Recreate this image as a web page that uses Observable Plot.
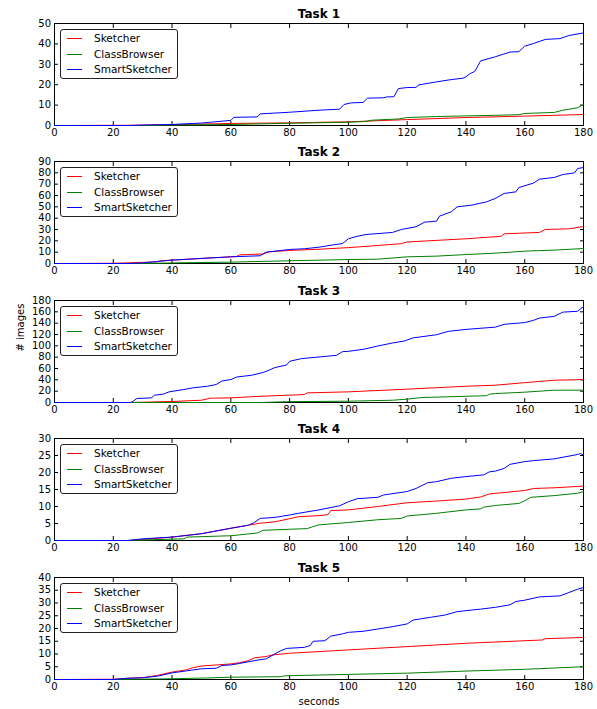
<!DOCTYPE html>
<html>
<head>
<meta charset="utf-8">
<script src="https://cdn.jsdelivr.net/npm/d3@7"></script>
<script src="https://cdn.jsdelivr.net/npm/@observablehq/plot@0.6"></script>
<style>
  body { margin: 0; background: #fff; font-family: "DejaVu Sans", sans-serif; }
  #chart { position: relative; width: 597px; height: 709px; overflow: hidden; }
  .panel { position: absolute; left: 0; }
  .legend { position: absolute; left: 60px; width: 116px; height: 48px; border: 1px solid #222; border-radius: 3px; background: #fff; font-size: 10.5px; color: #000; }
  .row { position: absolute; left: 0; width: 116px; height: 14px; }
  .sw { position: absolute; left: 6px; top: 7px; width: 15px; height: 1px; }
  .lab { position: absolute; left: 33px; top: 0; line-height: 14px; white-space: nowrap; }
</style>
</head>
<body>
<div id="chart"></div>
<script>
// ---- categories / labels ----
const seriesNames = ["Sketcher", "ClassBrowser", "SmartSketcher"];
const seriesColors = ["#ff0000", "#008000", "#0000ff"];
const taskTitles = ["Task 1", "Task 2", "Task 3", "Task 4", "Task 5"];
const xTicks = [0, 20, 40, 60, 80, 100, 120, 140, 160, 180];
const yTicks1 = [0, 10, 20, 30, 40, 50];
const yTicks2 = [0, 10, 20, 30, 40, 50, 60, 70, 80, 90];
const yTicks3 = [0, 20, 40, 60, 80, 100, 120, 140, 160, 180];
const yTicks4 = [0, 5, 10, 15, 20, 25, 30];
const yTicks5 = [0, 5, 10, 15, 20, 25, 30, 35, 40];

// ---- series values: [seconds, # images] ----
const task1Sketcher = [[0,0],[25,0.1],[40,0.4],[60,1.0],[80,1.3],[100,1.8],[120,2.9],[140,3.9],[160,4.6],[180,5.4]];
const task1ClassBrowser = [[0,0],[30,0],[40,0.2],[60,0.5],[70,0.8],[80,1.1],[100,1.6],[106,2.0],[108,2.6],[117,3.2],[120,3.9],[130,4.4],[140,4.7],[150,5.0],[158,5.3],[160,5.9],[170,6.4],[173,7.5],[178,8.7],[180,10.3]];
const task1SmartSketcher = [[0,0],[25,0],[30,0.2],[40,0.5],[50,1.2],[53,1.6],[60,2.5],[61,4],[69,4.2],[70,5.7],[80,6.5],[90,7.5],[97,8],[98.5,10.3],[101,11.1],[105,11.3],[106.5,13.4],[112,13.6],[113,14],[115.5,14.1],[117,18.1],[120,18.6],[123,18.7],[124,19.9],[130,21.4],[135,22.5],[139,23.2],[140,23.9],[141.5,25.5],[143,26.5],[145,31.7],[150,33.7],[155,36],[158,36.2],[160,38.9],[163,40.2],[167,42.2],[172,42.6],[175,44.1],[180,45.4]];

const task2Sketcher = [[0,0],[20,0.2],[30,1],[35,1.5],[36,2.4],[40,3],[50,4.5],[60,5.9],[62,6.2],[63,7.6],[71,8.4],[73,10.3],[80,11.5],[90,12.6],[100,14],[110,15.9],[118,17.5],[120,19],[140,21.8],[152,24],[153,26.2],[165,27.4],[167,30],[175,30.6],[180,32.6]];
const task2ClassBrowser = [[0,0],[30,0],[40,0.5],[60,1.2],[80,2.4],[100,3.5],[110,3.8],[120,5.9],[130,6.5],[140,7.9],[150,9.1],[160,10.9],[170,11.8],[180,13.2]];
const task2SmartSketcher = [[0,0],[25,0],[30,0.5],[40,3],[60,5.9],[70,6.8],[72,10],[80,12.4],[85,13],[90,14.4],[95,16.5],[98,17.6],[100,21.8],[103,24],[106,25.6],[115,27.4],[118,30],[123,32.4],[126,36.5],[130,37.4],[131,41.8],[135,45.6],[137,50],[142,51.5],[147,54.4],[150,57.4],[153,61.8],[157,63.2],[158,67],[163,71],[165,74.4],[170,75.9],[173,78.5],[177,80],[178,83.8],[180,84.7]];

const task3Sketcher = [[0,0],[25,0],[30,0.5],[40,1.8],[50,4],[53,7.6],[60,8.2],[70,11],[80,13],[85,14],[86,17],[100,18.8],[120,23.5],[140,28.7],[150,30.5],[160,35],[170,39.3],[180,40.5]];
const task3ClassBrowser = [[0,0],[70,0],[80,1.5],[100,2.3],[115,4],[120,5.9],[125,8.8],[140,11],[147,12],[148,14.7],[150,15.8],[160,18.2],[170,21.7],[180,21.7]];
const task3SmartSketcher = [[0,0],[26,0],[27,3],[28,7],[33,8.2],[34,12.9],[37,14.7],[39,18.8],[44,22.9],[47,25.8],[52,28.7],[55,31.7],[57,38],[60,40.5],[62,45],[67,48],[71,53],[73,57],[75,61.6],[79,66.3],[80,72.7],[84,77.4],[90,80.3],[96,83.3],[98,89.7],[100,90.3],[105,93.8],[110,99.7],[115,105],[119,108.5],[122,114],[130,119.6],[134,125.5],[140,129],[150,133],[153,138],[160,141],[163,145],[165,149],[170,152],[173,159.5],[178,161],[180,169.5]];

const task4Sketcher = [[0,0],[25,0],[30,0.3],[40,1.0],[50,2],[60,3.6],[66,4.5],[70,5.1],[75,5.5],[80,6.4],[83,7],[90,7.3],[93,7.6],[94,8.8],[100,9],[110,10],[120,11.1],[130,11.6],[140,12.2],[145,12.8],[148,13.7],[160,14.7],[163,15.3],[170,15.5],[178,15.9],[180,16]];
const task4ClassBrowser = [[0,0],[25,0],[40,0.4],[44,0.5],[45,1.0],[60,1.4],[69,2.2],[71,3],[80,3.3],[86,3.5],[88,4.1],[90,4.6],[100,5.3],[110,6.1],[118,6.5],[120,7.2],[130,8],[140,9],[145,9.3],[146,9.8],[150,10.3],[158,10.9],[160,11.7],[162,12.7],[170,13.2],[178,13.9],[180,14.4]];
const task4SmartSketcher = [[0,0],[25,0],[30,0.5],[40,1.0],[50,2],[60,3.6],[66,4.5],[68,5.3],[70,6.5],[75,6.8],[80,7.5],[83,8],[90,9],[97,10.2],[100,11.4],[103,12.3],[110,12.7],[112,13.4],[120,14.4],[123,15.3],[127,17],[130,17.3],[135,18.3],[140,18.8],[146,19.3],[148,20.2],[150,20.4],[153,21.2],[155,22.4],[160,23.2],[163,23.5],[170,24],[178,25.3],[179,25.6],[180,25.1]];

const task5Sketcher = [[0,0],[20,0.1],[25,0.5],[30,0.7],[35,1.6],[40,2.9],[45,3.8],[47,4.6],[50,5.3],[55,5.7],[60,6.1],[63,6.6],[66,7.4],[68,8.5],[72,9],[74,9.6],[80,10.3],[100,11.6],[120,12.9],[140,14.2],[160,15.2],[166,15.5],[167,16],[180,16.5]];
const task5ClassBrowser = [[0,0],[20,0],[40,0.3],[52,0.6],[60,0.9],[77,1.1],[78,1.4],[80,1.5],[100,2],[120,2.5],[140,3.3],[160,4],[180,5]];
const task5SmartSketcher = [[0,0],[20,0],[25,0.5],[30,0.7],[35,1.3],[40,2.6],[45,3.4],[50,4.2],[55,4.4],[57,5.5],[60,5.7],[63,6.3],[68,7.4],[72,8.1],[74,9.4],[77,11.3],[79,12.2],[85,12.6],[87,13.3],[88,15],[92,15.2],[94,17],[98,17.9],[100,18.5],[105,18.9],[110,19.8],[115,20.7],[120,21.8],[122,23.3],[128,24.4],[133,25.3],[137,26.6],[140,27],[145,27.6],[150,28.3],[155,29.3],[157,30.6],[160,31.1],[165,32.4],[172,32.8],[175,34.1],[178,35.4],[180,36.1]];

// ---- assemble ----
const taskSeries = [
  [task1Sketcher, task1ClassBrowser, task1SmartSketcher],
  [task2Sketcher, task2ClassBrowser, task2SmartSketcher],
  [task3Sketcher, task3ClassBrowser, task3SmartSketcher],
  [task4Sketcher, task4ClassBrowser, task4SmartSketcher],
  [task5Sketcher, task5ClassBrowser, task5SmartSketcher]
];
const taskYTicks = [yTicks1, yTicks2, yTicks3, yTicks4, yTicks5];
const panelTops = [0, 138, 277, 415, 554];

const chart = document.getElementById("chart");
const font = "DejaVu Sans, sans-serif";

taskTitles.forEach((title, i) => {
  const last = i === taskTitles.length - 1;
  const yt = taskYTicks[i];
  const rows = [];
  taskSeries[i].forEach((s, j) => s.forEach(([t, v]) => rows.push({t, v, series: seriesNames[j]})));
  const marks = [
    Plot.frame({stroke: "#000", strokeWidth: 1}),
    // inward ticks on all sides
    Plot.axisX(xTicks, {anchor: "bottom", tickSize: -4, fill: "none", label: null, stroke: "#000"}),
    Plot.axisX(xTicks, {anchor: "top", tickSize: -4, fill: "none", label: null, stroke: "#000"}),
    Plot.axisY(yt, {anchor: "left", tickSize: -4, fill: "none", label: null, stroke: "#000"}),
    Plot.axisY(yt, {anchor: "right", tickSize: -4, fill: "none", label: null, stroke: "#000"}),
    // tick labels
    Plot.axisX(xTicks, {anchor: "bottom", tickSize: 0, tickPadding: 3.5, stroke: "none", fill: "#000", label: null, fontSize: 10}),
    Plot.axisY(yt, {anchor: "left", tickSize: 0, tickPadding: 3.5, stroke: "none", fill: "#000", label: null, fontSize: 10}),
    ...seriesNames.map((name, j) =>
      Plot.line(rows.filter(d => d.series === name), {x: "t", y: "v", stroke: seriesColors[j], strokeWidth: 1})
    ),
    Plot.text([title], {frameAnchor: "top", lineAnchor: "middle", dy: -9, fontWeight: "bold", fontSize: 12, fill: "#000"})
  ];
  if (i === 2) {
    marks.push(Plot.text(["# images"], {frameAnchor: "left", dx: -34, rotate: -90, fontSize: 10, fill: "#000"}));
  }
  if (last) {
    marks.push(Plot.text(["seconds"], {frameAnchor: "bottom", lineAnchor: "middle", dy: 22, fontSize: 10, fill: "#000"}));
  }
  const svg = Plot.plot({
    width: 597,
    height: last ? 155 : 138,
    marginLeft: 54,
    marginRight: 14,
    marginTop: 23,
    marginBottom: last ? 30 : 13,
    style: {fontFamily: font, fontSize: "10px", overflow: "visible", background: "transparent", color: "#000"},
    x: {domain: [0, 180]},
    y: {domain: [yt[0], yt[yt.length - 1]]},
    marks
  });
  const wrap = document.createElement("div");
  wrap.className = "panel";
  wrap.style.top = panelTops[i] + "px";
  wrap.appendChild(svg);
  chart.appendChild(wrap);

  // legend box
  const lg = document.createElement("div");
  lg.className = "legend";
  lg.style.top = (panelTops[i] + 23 + 6) + "px";
  const rowTops = [1, 17, 32];
  seriesNames.forEach((name, j) => {
    const r = document.createElement("div");
    r.className = "row";
    r.style.top = rowTops[j] + "px";
    const sw = document.createElement("span");
    sw.className = "sw";
    sw.style.backgroundColor = seriesColors[j];
    const lb = document.createElement("span");
    lb.className = "lab";
    lb.textContent = name;
    r.appendChild(sw);
    r.appendChild(lb);
    lg.appendChild(r);
  });
  chart.appendChild(lg);
});
</script>
</body>
</html>
